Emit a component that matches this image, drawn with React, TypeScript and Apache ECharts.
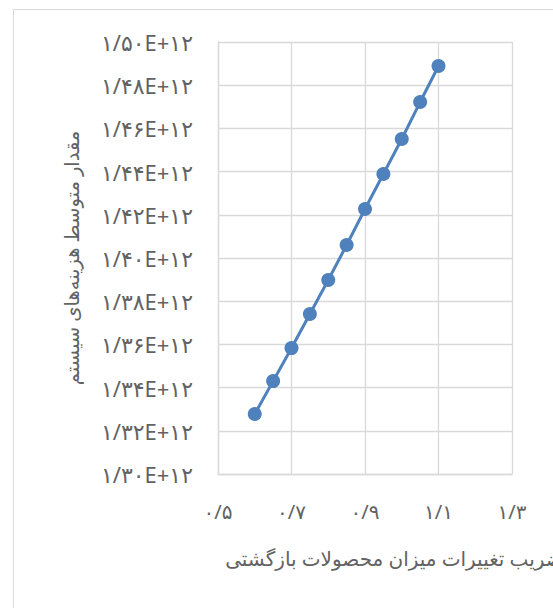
import React, { useEffect, useRef } from "react";
import * as echarts from "echarts";

const xValues = [0.6, 0.65, 0.7, 0.75, 0.8, 0.85, 0.9, 0.95, 1.0, 1.05, 1.1];
const costValues = [
  1.3278e12, 1.343e12, 1.3583e12, 1.3741e12, 1.3898e12, 1.406e12,
  1.4227e12, 1.4389e12, 1.4551e12, 1.4722e12, 1.4889e12,
];
const xAxisTitle = "ضریب تغییرات میزان محصولات بازگشتی";
const yAxisTitle = "مقدار متوسط هزینه‌های سیستم";

const faDigits = "۰۱۲۳۴۵۶۷۸۹";
const toFa = (s: string) =>
  s.replace(/[0-9]/g, (d) => faDigits[Number(d)]).replace(/\./g, "/");

const FONT = "'Noto Sans', 'DejaVu Sans', sans-serif";
const TEXT = "#626262";

export default function App() {
  const ref = useRef<HTMLDivElement>(null);
  useEffect(() => {
    if (!ref.current) return;
    const chart = echarts.init(ref.current, null, { renderer: "svg" });
    chart.setOption({
      animation: false,
      backgroundColor: "#ffffff",
      graphic: [
        {
          type: "rect",
          z: -10,
          shape: { x: 13.5, y: 9.5, width: 800, height: 800 },
          style: { fill: "none", stroke: "#d9d9d9", lineWidth: 1 },
        },
      ],
      grid: {
        left: 218,
        right: 41,
        top: 42,
        bottom: 134,
        containLabel: false,
        outerBoundsMode: "none",
      },
      xAxis: {
        type: "value",
        min: 0.5,
        max: 1.3,
        interval: 0.2,
        name: xAxisTitle,
        nameLocation: "middle",
        nameGap: 74,
        nameTextStyle: {
          color: TEXT,
          fontSize: 20,
          fontFamily: FONT,
          padding: [0, 0, 0, 58],
        },
        axisLine: { show: true, lineStyle: { color: "#d9d9d9", width: 1.3 } },
        axisTick: { show: false },
        splitLine: { show: true, lineStyle: { color: "#d9d9d9", width: 1.3 } },
        axisLabel: {
          color: TEXT,
          fontSize: 20,
          fontFamily: FONT,
          margin: 27,
          formatter: (v: number) => toFa(v.toFixed(1)),
        },
      },
      yAxis: {
        type: "value",
        min: 1.3e12,
        max: 1.5e12,
        interval: 2e10,
        name: yAxisTitle,
        nameLocation: "middle",
        nameGap: 137,
        nameTextStyle: { color: TEXT, fontSize: 19.5, fontFamily: FONT },
        axisLine: { show: true, lineStyle: { color: "#d9d9d9", width: 1.3 } },
        axisTick: { show: false },
        splitLine: { show: true, lineStyle: { color: "#d9d9d9", width: 1.3 } },
        axisLabel: {
          color: TEXT,
          fontSize: 22,
          fontFamily: FONT,
          margin: 25,
          formatter: (v: number) => toFa((v / 1e12).toFixed(2)) + "E+" + toFa("12"),
        },
      },
      series: [
        {
          type: "line",
          data: xValues.map((x, i) => [x, costValues[i]]),
          symbol: "circle",
          symbolSize: 14,
          lineStyle: { color: "#4f81bd", width: 3 },
          itemStyle: { color: "#4f81bd" },
        },
      ],
    });
    return () => chart.dispose();
  }, []);
  return (
    <div
      ref={ref}
      style={{ position: "fixed", left: 0, top: 0, width: 553, height: 608, background: "#fff" }}
    />
  );
}
